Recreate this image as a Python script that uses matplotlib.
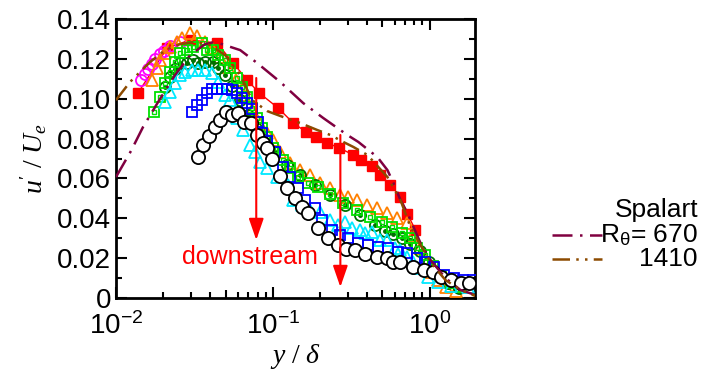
import matplotlib
matplotlib.use("Agg")
import matplotlib.pyplot as plt
from matplotlib.lines import Line2D
from matplotlib.ticker import FixedLocator, FuncFormatter, MultipleLocator, NullLocator, LogLocator

plt.rcParams['font.family'] = ['Liberation Sans', 'DejaVu Sans']
plt.rcParams['mathtext.fontset'] = 'custom'
plt.rcParams['mathtext.rm'] = 'Liberation Serif'
plt.rcParams['mathtext.it'] = 'Liberation Serif:italic'
plt.rcParams['mathtext.bf'] = 'Liberation Serif:bold'

# measured profiles, y/delta vs u'/Ue
red_x = [0.01382, 0.02118, 0.02971, 0.04421, 0.05593, 0.06872, 0.08199, 0.1084, 0.1352, 0.1637, 0.1897,
         0.2229, 0.2660, 0.3268, 0.3677, 0.4323, 0.4863, 0.5633, 0.6526, 0.7236, 0.8139]
red_u = [0.1029, 0.1254, 0.1295, 0.1279, 0.1179, 0.1094, 0.1029, 0.0953, 0.0878, 0.0833, 0.0808,
         0.0778, 0.0753, 0.0718, 0.0692, 0.0662, 0.0617, 0.0567, 0.0507, 0.0421, 0.0341]

magenta_x = [0.01444, 0.01532, 0.01601, 0.01698, 0.01775, 0.01911, 0.02026, 0.02213, 0.02564]
magenta_u = [0.1094, 0.1124, 0.1149, 0.1174, 0.1199, 0.1224, 0.1239, 0.1264, 0.1285]

orange_x = [0.01698, 0.01828, 0.01911, 0.02056, 0.02213, 0.02453, 0.0264, 0.02971, 0.03293, 0.03703, 0.04106,
            0.04618, 0.05195, 0.05845, 0.06576, 0.07396, 0.08321, 0.09225, 0.1007, 0.1117, 0.1294, 0.1498,
            0.1736, 0.2011, 0.2330, 0.2700, 0.3037, 0.3467, 0.4016, 0.4653, 0.5390, 0.6244, 0.7236, 0.7902,
            0.8760, 0.9428, 1.015, 1.125, 1.265, 1.466]
orange_u = [0.1094, 0.1154, 0.1194, 0.1229, 0.1259, 0.1285, 0.1305, 0.1330, 0.1315, 0.1285, 0.1254,
            0.1209, 0.1159, 0.1094, 0.1019, 0.0943, 0.0873, 0.0828, 0.0793, 0.0733, 0.0677, 0.0642,
            0.0617, 0.0577, 0.0552, 0.0517, 0.0507, 0.0492, 0.0467, 0.0452, 0.0426, 0.0401, 0.0376, 0.0316,
            0.0251, 0.0201, 0.0130, 0.0090, 0.0055, 0.0035]

green_x = [0.01749, 0.01911, 0.02056, 0.02213, 0.02382, 0.02564, 0.02842, 0.03105, 0.03543, 0.03815, 0.04167,
           0.04486, 0.04971, 0.05352, 0.05932, 0.06385, 0.06872, 0.07396, 0.07962, 0.0857, 0.09225, 0.1007,
           0.1167, 0.1294, 0.1455, 0.1686, 0.1953, 0.2330, 0.2821, 0.3467, 0.4198, 0.5008, 0.5801, 0.6721,
           0.7561, 0.8381, 0.9428, 1.045, 1.176, 1.362, 1.578]
green_u = [0.0933, 0.1009, 0.1079, 0.1134, 0.1184, 0.1229, 0.1244, 0.1259, 0.1279, 0.1244, 0.1244,
           0.1219, 0.1194, 0.1154, 0.1104, 0.1059, 0.1009, 0.0953, 0.0903, 0.0853, 0.0808, 0.0753,
           0.0692, 0.0652, 0.0607, 0.0577, 0.0557, 0.0522, 0.0477, 0.0442, 0.0406, 0.0381, 0.0356, 0.0326,
           0.0301, 0.0251, 0.0216, 0.0161, 0.0110, 0.0075, 0.0055]

dkgreen_x = [0.02056, 0.02213, 0.02382, 0.02564, 0.02842, 0.03105, 0.03342, 0.03703, 0.04167, 0.04486, 0.04971,
             0.05511, 0.062, 0.06973, 0.07845, 0.08956, 0.1037, 0.1238, 0.1498, 0.1869, 0.2330, 0.2906,
             0.3623, 0.4518, 0.5233, 0.5888, 0.6721, 0.7561, 0.876, 0.9854, 1.125, 1.303, 1.532]
dkgreen_u = [0.1059, 0.1109, 0.1149, 0.1179, 0.1179, 0.1194, 0.1179, 0.1184, 0.1184, 0.1154, 0.1119,
             0.1064, 0.0993, 0.0918, 0.0853, 0.0793, 0.0733, 0.0667, 0.0617, 0.0567, 0.0517, 0.0467,
             0.0416, 0.0366, 0.0336, 0.0321, 0.0301, 0.0271, 0.0236, 0.0181, 0.0115, 0.0075, 0.0050]

cyan_x = [0.02056, 0.02213, 0.02382, 0.02564, 0.0276, 0.03059, 0.03342, 0.03703, 0.04106, 0.04486, 0.04971,
          0.05352, 0.05932, 0.0648, 0.07182, 0.07731, 0.08321, 0.09225, 0.1069, 0.1256, 0.1352, 0.1543,
          0.1736, 0.2011, 0.2330, 0.2621, 0.2906, 0.3221, 0.3623, 0.39, 0.4323, 0.4863, 0.539, 0.6063,
          0.6526, 0.7236, 0.7902, 0.8506, 0.971, 1.125, 1.362, 1.749]
cyan_u = [0.0983, 0.1034, 0.1079, 0.1119, 0.1134, 0.1144, 0.1144, 0.1144, 0.1129, 0.1084, 0.1019,
          0.0993, 0.0903, 0.0843, 0.0768, 0.0733, 0.0682, 0.0652, 0.0607, 0.0567, 0.0492, 0.0467,
          0.0442, 0.0432, 0.0391, 0.0366, 0.0381, 0.0351, 0.0341, 0.0326, 0.0331, 0.0291, 0.0291, 0.0251,
          0.0241, 0.0206, 0.0181, 0.0151, 0.0105, 0.0080, 0.0060, 0.0055]

blue_x = [0.03059, 0.03293, 0.03543, 0.03815, 0.04106, 0.04421, 0.04757, 0.0512, 0.05511, 0.05932, 0.06385,
          0.06872, 0.07396, 0.0808, 0.0857, 0.09225, 0.1037, 0.1167, 0.1294, 0.1455, 0.1613, 0.1869,
          0.2071, 0.24, 0.27, 0.3037, 0.3518, 0.4076, 0.4722, 0.547, 0.6334, 0.7236, 0.8381, 0.9428,
          1.061, 1.229, 1.423, 1.625, 1.883]
blue_u = [0.0933, 0.0968, 0.0993, 0.1029, 0.1049, 0.1049, 0.1049, 0.1049, 0.1044, 0.1029, 0.1004,
          0.0978, 0.0948, 0.0883, 0.0828, 0.0788, 0.0733, 0.0657, 0.0607, 0.0552, 0.0492, 0.0452,
          0.0391, 0.0341, 0.0316, 0.0301, 0.0276, 0.0266, 0.0256, 0.0251, 0.0231, 0.0226, 0.0201, 0.0181,
          0.0156, 0.0115, 0.0100, 0.0090, 0.0090]

black_x = [0.03342, 0.03596, 0.03929, 0.04292, 0.04618, 0.05045, 0.05511, 0.0602, 0.06576, 0.07289, 0.07962,
           0.08697, 0.09225, 0.09927, 0.1117, 0.1238, 0.1392, 0.1543, 0.1686, 0.1953, 0.2262, 0.2621,
           0.2948, 0.3366, 0.39, 0.4653, 0.539, 0.5888, 0.6526, 0.7902, 0.9156, 1.045, 1.176, 1.362,
           1.578, 1.775]
black_u = [0.0707, 0.0768, 0.0813, 0.0858, 0.0893, 0.0933, 0.0918, 0.0928, 0.0883, 0.0878, 0.0818,
           0.0778, 0.0753, 0.0697, 0.0612, 0.0552, 0.0502, 0.0457, 0.0426, 0.0351, 0.0301, 0.0266,
           0.0246, 0.0241, 0.0221, 0.0206, 0.0201, 0.0181, 0.0181, 0.0156, 0.0140, 0.0130, 0.0105, 0.0090,
           0.0075, 0.0075]

# Spalart DNS
sp670_x = [0.01, 0.01247, 0.01488, 0.01855, 0.02382, 0.02971, 0.03703, 0.04292, 0.062, 0.07962, 0.1117,
           0.1566, 0.2102, 0.2992, 0.3518, 0.4653, 0.539, 0.5888, 0.6526, 0.7236, 0.7902, 0.876, 1.015,
           1.265, 1.578, 1.968]
sp670_u = [0.0607, 0.0738, 0.0858, 0.0983, 0.1119, 0.1219, 0.1274, 0.1285, 0.1244, 0.1179, 0.1084,
           0.0978, 0.0903, 0.0818, 0.0783, 0.0707, 0.0642, 0.0577, 0.0492, 0.0426, 0.0356, 0.0276, 0.0191,
           0.0100, 0.0040, 0.0015]
sp1410_x = [0.01, 0.01229, 0.01466, 0.0165, 0.02056, 0.02564, 0.03197, 0.03988, 0.04971, 0.062, 0.07396,
            0.09225, 0.1167, 0.1498, 0.1924, 0.2330, 0.2821, 0.3268, 0.4016, 0.539, 0.6526, 0.7561, 0.876,
            1.045, 1.265, 1.578, 1.968]
sp1410_u = [0.0993, 0.1084, 0.1144, 0.1184, 0.1244, 0.1274, 0.1285, 0.1269, 0.1219, 0.1119, 0.0993,
            0.0938, 0.0908, 0.0878, 0.0843, 0.0818, 0.0783, 0.0758, 0.0718, 0.0607, 0.0492, 0.0356, 0.0266,
            0.0166, 0.0090, 0.0040, 0.0010]

arrow_x = [0.0785, 0.270]
arrow_top = [0.1104, 0.0818]
arrow_bottom = [0.0291, 0.0055]

ytick_vals = [0, 0.02, 0.04, 0.06, 0.08, 0.10, 0.12, 0.14]
xtick_vals = [0.01, 0.1, 1.0]
xtick_labels = [r'$\mathregular{10^{-2}}$', r'$\mathregular{10^{-1}}$', r'$\mathregular{10^{0}}$']

fig = plt.figure(figsize=(7.02, 3.76), dpi=100)
ax = fig.add_axes([0.1652, 0.2074, 0.5114, 0.742])

ax.plot(red_x, red_u, color='red', lw=1.0, marker='s', ms=7.5, mfc='red', mec='red', zorder=3)
ax.plot(magenta_x, magenta_u, ls='none', marker='o', ms=8, mfc='none', mec='#FF00FF', mew=1.3, zorder=3)
ax.plot(orange_x, orange_u, ls='none', marker='^', ms=9, mfc='none', mec='#FF8000', mew=1.3, zorder=3)
ax.plot(dkgreen_x, dkgreen_u, ls='none', marker='o', ms=8, mfc='none', mec='#007000', mew=1.3, zorder=3)
ax.plot(dkgreen_x, dkgreen_u, ls='none', marker='o', ms=2.5, mfc='#007000', mec='#007000', zorder=3)
ax.plot(green_x, green_u, ls='none', marker='s', ms=7.5, mfc='none', mec='#00E000', mew=1.3, zorder=3)
ax.plot(green_x, green_u, ls='none', marker='s', ms=3, mfc='none', mec='#00E000', mew=1.0, zorder=3)
ax.plot(cyan_x, cyan_u, ls='none', marker='^', ms=9, mfc='none', mec='#00E8FF', mew=1.3, zorder=3)
ax.plot(blue_x, blue_u, ls='none', marker='s', ms=7.5, mfc='none', mec='#0000FF', mew=1.3, zorder=3)
ax.plot(black_x, black_u, ls='none', marker='o', ms=9.5, mfc='white', mec='black', mew=1.3, zorder=3)

ax.plot(sp670_x, sp670_u, color='#800040', lw=1.8, dashes=[8, 3, 1, 3], zorder=4)
ax.plot(sp1410_x, sp1410_u, color='#8C4A00', lw=1.8, dashes=[7, 2.5, 1, 2.5, 1, 2.5], zorder=4)

for xa, yt, yb in zip(arrow_x, arrow_top, arrow_bottom):
    ax.annotate('', xy=(xa, yb), xytext=(xa, yt), zorder=5,
                arrowprops=dict(arrowstyle='-|>,head_length=1.3,head_width=0.45',
                                color='red', lw=1.5, shrinkA=0, shrinkB=0))
ax.text(0.0718, 0.0206, 'downstream', color='red', fontsize=18, ha='center', va='center', zorder=5)

ax.set_xscale('log')
ax.set_xlim(0.01, 1.95)
ax.set_ylim(0, 0.14)
ax.xaxis.set_major_locator(FixedLocator(xtick_vals))
ax.set_xticklabels(xtick_labels)
ax.xaxis.set_minor_locator(LogLocator(base=10, subs=[2, 3, 4, 6, 7, 8, 9], numticks=20))
ax.yaxis.set_major_locator(FixedLocator(ytick_vals))
ax.yaxis.set_minor_locator(MultipleLocator(0.01))
ax.yaxis.set_major_formatter(FuncFormatter(lambda v, p: '0' if abs(v) < 1e-9 else '%.2f' % v))
ax.tick_params(which='both', direction='in', top=True, right=True, width=1.5, labelsize=20)
ax.tick_params(which='major', length=8)
ax.tick_params(which='minor', length=4)
ax.tick_params(axis='x', pad=10)
for s in ax.spines.values():
    s.set_linewidth(2)

# medium ticks at 5 x decade
for side in ['bottom', 'top']:
    sec = ax.secondary_xaxis(side)
    sec.set_xticks([0.05, 0.5])
    sec.xaxis.set_minor_locator(NullLocator())
    sec.tick_params(direction='in', length=6, width=1.5, labelbottom=False, labeltop=False)
    sec.spines[side].set_visible(False)

ax.set_ylabel(r"$u'\ /\ U_e$", fontsize=20, labelpad=6)
ax.set_xlabel(r'$y\ /\ \delta$', fontsize=20, labelpad=2)

# legend drawn by hand
fig.add_artist(Line2D([0.786, 0.8575], [0.375, 0.375], color='#800040', lw=1.8, dashes=[8, 3, 1, 3]))
fig.add_artist(Line2D([0.786, 0.8575], [0.311, 0.311], color='#8C4A00', lw=1.8, dashes=[7, 2.5, 1, 2.5, 1, 2.5]))
fig.text(0.936, 0.441, 'Spalart', fontsize=19, ha='center', va='center')
fig.text(0.994, 0.375, r'R$_\mathregular{θ}$= 670', fontsize=19, ha='right', va='center')
fig.text(0.994, 0.311, '1410', fontsize=19, ha='right', va='center')

fig.savefig('out.png', dpi=100)
